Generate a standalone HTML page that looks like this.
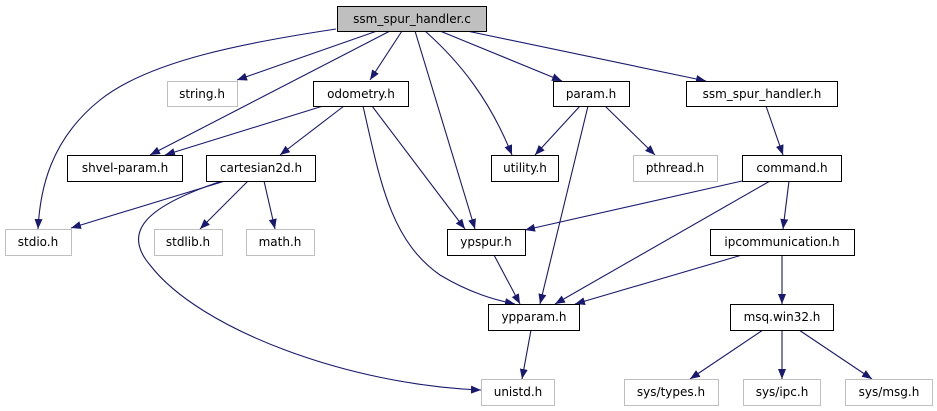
<!DOCTYPE html>
<html><head><meta charset="utf-8"><style>
html,body{margin:0;padding:0;background:#fff;width:937px;height:411px;overflow:hidden}
svg text{font-family:"DejaVu Sans","Liberation Sans",sans-serif;font-size:12px;fill:#000}
</style></head><body>
<svg width="937" height="411" viewBox="0 0 937 411" xmlns="http://www.w3.org/2000/svg">
<defs><marker id="a" markerWidth="10" markerHeight="8" refX="10" refY="4" orient="auto" markerUnits="userSpaceOnUse"><path d="M0,0 L10,4 L0,8 z" fill="#191970"/></marker></defs>
<g fill="none" stroke="#191970" stroke-width="1.1" marker-end="url(#a)">
<path d="M336,29 C250,42 150,60 100,100 C50,140 40,190 38,229"/>
<path d="M377,31 L237,80"/>
<path d="M390,31 L150,155"/>
<path d="M402,31 L370,80"/>
<path d="M415,31 L475,229"/>
<path d="M425,31 C460,62 490,100 512,155"/>
<path d="M440,31 L562,81"/>
<path d="M467,31 L706,81"/>
<path d="M323,106 L165,155"/>
<path d="M344,106 L280,155"/>
<path d="M372,106 L465,229"/>
<path d="M363,106 C380,180 390,240 440,275 C470,293 495,300 515,304"/>
<path d="M225,181 L71,228"/>
<path d="M248,181 L200,229"/>
<path d="M264,181 L275,229"/>
<path d="M222,181 C150,205 120,230 150,265 C200,330 350,385 481,390"/>
<path d="M580,106 L535,155"/>
<path d="M605,106 L655,155"/>
<path d="M588,106 L540,304"/>
<path d="M766,106 L783,155"/>
<path d="M742,181 L525,230"/>
<path d="M770,181 L555,304"/>
<path d="M789,181 L783,229"/>
<path d="M494,255 L520,304"/>
<path d="M742,255 L575,304"/>
<path d="M782,255 L782,304"/>
<path d="M531,330 L522,379"/>
<path d="M763,330 L690,379"/>
<path d="M782,330 L782,379"/>
<path d="M799,330 L872,379"/>
</g>
<g stroke-width="1">
<rect x="337.5" y="6.5" width="149" height="25" fill="#bfbfbf" stroke="#000"/>
<g fill="#fff" stroke="#000">
<rect x="313.5" y="81.5" width="95" height="25"/>
<rect x="67.5" y="155.5" width="115" height="26"/>
<rect x="206.5" y="155.5" width="109" height="26"/>
<rect x="553.5" y="81.5" width="76" height="25"/>
<rect x="686.5" y="81.5" width="151" height="25"/>
<rect x="491.5" y="155.5" width="67" height="26"/>
<rect x="742.5" y="155.5" width="99" height="26"/>
<rect x="447.5" y="229.5" width="78" height="26"/>
<rect x="710.5" y="229.5" width="144" height="26"/>
<rect x="488.5" y="304.5" width="91" height="26"/>
<rect x="730.5" y="304.5" width="103" height="26"/>
</g>
<g fill="#fff" stroke="#bfbfbf">
<rect x="167.5" y="81.5" width="70" height="25"/>
<rect x="633.5" y="155.5" width="84" height="26"/>
<rect x="5.5" y="229.5" width="66" height="26"/>
<rect x="154.5" y="229.5" width="68" height="26"/>
<rect x="246.5" y="229.5" width="68" height="26"/>
<rect x="481.5" y="379.5" width="73" height="26"/>
<rect x="624.5" y="379.5" width="94" height="26"/>
<rect x="743.5" y="379.5" width="77" height="26"/>
<rect x="845.5" y="379.5" width="87" height="26"/>
</g>
</g>
<g text-anchor="middle">
<text x="412" y="23">ssm_spur_handler.c</text>
<text x="202" y="98">string.h</text>
<text x="361" y="98">odometry.h</text>
<text x="591" y="98">param.h</text>
<text x="762" y="98">ssm_spur_handler.h</text>
<text x="125" y="172">shvel-param.h</text>
<text x="261" y="172">cartesian2d.h</text>
<text x="525" y="172">utility.h</text>
<text x="675" y="172">pthread.h</text>
<text x="792" y="172">command.h</text>
<text x="38" y="246">stdio.h</text>
<text x="188" y="246">stdlib.h</text>
<text x="280" y="246">math.h</text>
<text x="486" y="246">ypspur.h</text>
<text x="782" y="246">ipcommunication.h</text>
<text x="534" y="321">ypparam.h</text>
<text x="782" y="321">msq.win32.h</text>
<text x="518" y="396">unistd.h</text>
<text x="671" y="396">sys/types.h</text>
<text x="782" y="396">sys/ipc.h</text>
<text x="889" y="396">sys/msg.h</text>
</g>
</svg>
</body></html>
